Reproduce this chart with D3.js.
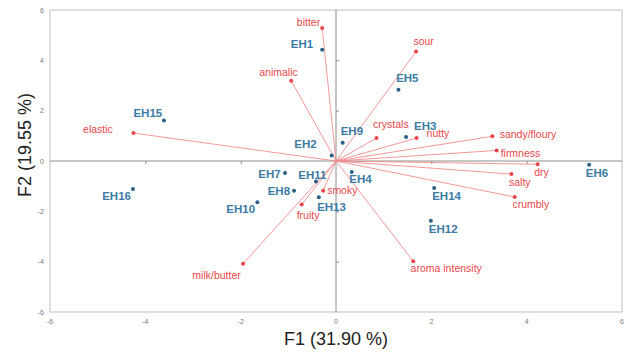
<!DOCTYPE html>
<html>
<head>
<meta charset="utf-8">
<script src="https://cdn.jsdelivr.net/npm/d3@7"></script>
<style>
  html, body { margin: 0; padding: 0; background: #fff; }
  svg { display: block; font-family: "Liberation Sans", Arial, sans-serif; }
</style>
</head>
<body>
<svg id="chart" width="630" height="352"></svg>
<script>
// ---- Data ----
const variableNames = ["bitter","sour","animalic","elastic","crystals","nutty","sandy/floury","firmness","dry","salty","crumbly","aroma intensity","milk/butter","fruity","smoky"];
const variableF1 = [-0.29, 1.68, -0.94, -4.25, 0.85, 1.69, 3.28, 3.37, 4.23, 3.68, 3.75, 1.62, -1.95, -0.72, -0.27];
const variableF2 = [5.28, 4.35, 3.19, 1.11, 0.91, 0.91, 0.98, 0.42, -0.13, -0.52, -1.43, -3.98, -4.08, -1.73, -1.18];

const obsNames = ["EH1","EH2","EH3","EH4","EH5","EH6","EH7","EH8","EH9","EH10","EH11","EH12","EH13","EH14","EH15","EH16"];
const obsF1 = [-0.29, -0.09, 1.47, 0.33, 1.31, 5.31, -1.07, -0.88, 0.14, -1.65, -0.42, 1.99, -0.36, 2.06, -3.61, -4.26];
const obsF2 = [4.42, 0.22, 0.95, -0.44, 2.83, -0.15, -0.48, -1.18, 0.73, -1.64, -0.81, -2.37, -1.44, -1.07, 1.61, -1.11];

const xTicks = [-6, -4, -2, 0, 2, 4, 6];
const yTicks = [-6, -4, -2, 0, 2, 4, 6];
const xTitle = "F1 (31.90 %)";
const yTitle = "F2 (19.55 %)";

// ---- Label placement (layout only) ----
const varLabelPos = {
  "bitter": [-2, -2, "end"], "sour": [-2.7, -7, "start"], "animalic": [-12.7, -4.5, "middle"],
  "elastic": [-20.6, -0.3, "end"], "crystals": [-3.4, -10.5, "start"], "nutty": [10, -1.3, "start"],
  "sandy/floury": [7.3, 1.8, "start"], "firmness": [4, 6.3, "start"], "dry": [-3.4, 11.5, "start"],
  "salty": [-2.4, 11.7, "start"], "crumbly": [-2.3, 11.2, "start"], "aroma intensity": [-2.6, 11.3, "start"],
  "milk/butter": [-2.3, 15.5, "end"], "fruity": [-5, 14, "start"], "smoky": [4, 3.5, "start"]
};
const obsLabelPos = {
  "EH1": [-9, -2, "end"], "EH2": [-15, -7.7, "end"], "EH3": [8, -7.5, "start"], "EH4": [-2.4, 11.2, "start"],
  "EH5": [-2.3, -7.5, "start"], "EH6": [-3.3, 11.8, "start"], "EH7": [-4.3, 5.2, "end"], "EH8": [-4, 4, "end"],
  "EH9": [-2, -7.2, "start"], "EH10": [-2.3, 10.3, "end"], "EH11": [-17.7, -2.7, "start"], "EH12": [-2, 12, "start"],
  "EH13": [-1.7, 13.8, "start"], "EH14": [-2, 11.7, "start"], "EH15": [-1.7, -3.7, "end"], "EH16": [-2, 11.5, "end"]
};

const svg = d3.select("#chart");
const margin = {left: 50, right: 8, top: 10, bottom: 40};
const W = 630, H = 352;
const x = d3.scaleLinear().domain([-6, 6]).range([margin.left, W - margin.right]);
const y = d3.scaleLinear().domain([-6, 6]).range([H - margin.bottom, margin.top]);

// frame
svg.append("rect")
  .attr("x", x(-6)).attr("y", y(6))
  .attr("width", x(6) - x(-6)).attr("height", y(-6) - y(6))
  .attr("fill", "none").attr("stroke", "#d4d4d4").attr("stroke-width", 1.5);

// tick labels
svg.append("g").selectAll("text").data(xTicks).join("text")
  .attr("x", d => x(d)).attr("y", y(-6) + 12)
  .attr("text-anchor", "middle").attr("font-size", 7).attr("fill", "#777")
  .text(d => d);
svg.append("g").selectAll("text").data(yTicks).join("text")
  .attr("x", x(-6) - 6).attr("y", d => y(d) + 2.5)
  .attr("text-anchor", "end").attr("font-size", 7).attr("fill", "#777")
  .text(d => d);

// zero axes with small ticks
const zx = svg.append("g").attr("transform", `translate(0,${y(0)})`)
  .call(d3.axisBottom(x).tickValues(xTicks.filter(d => d !== 0 && Math.abs(d) !== 6)).tickSize(3).tickFormat(""));
const zy = svg.append("g").attr("transform", `translate(${x(0)},0)`)
  .call(d3.axisRight(y).tickValues(yTicks.filter(d => d !== 0 && Math.abs(d) !== 6)).tickSize(3).tickFormat(""));
[zx, zy].forEach(g => {
  g.selectAll("path, line").attr("stroke", "#8c8c8c").attr("stroke-width", 1);
  g.select(".domain").attr("d", null);
});
svg.append("line").attr("x1", x(-6)).attr("x2", x(6)).attr("y1", y(0)).attr("y2", y(0))
  .attr("stroke", "#8c8c8c").attr("stroke-width", 1);
svg.append("line").attr("x1", x(0)).attr("x2", x(0)).attr("y1", y(6)).attr("y2", y(-6))
  .attr("stroke", "#8c8c8c").attr("stroke-width", 1);

// variables
const vars = variableNames.map((n, i) => ({name: n, f1: variableF1[i], f2: variableF2[i]}));
const obs = obsNames.map((n, i) => ({name: n, f1: obsF1[i], f2: obsF2[i]}));

svg.append("g").selectAll("line").data(vars).join("line")
  .attr("x1", x(0)).attr("y1", y(0))
  .attr("x2", d => x(d.f1)).attr("y2", d => y(d.f2))
  .attr("stroke", "#f28c8c").attr("stroke-width", 0.9);
svg.append("g").selectAll("circle").data(vars).join("circle")
  .attr("cx", d => x(d.f1)).attr("cy", d => y(d.f2)).attr("r", 2)
  .attr("fill", "#e8444a");
svg.append("g").selectAll("text").data(vars).join("text")
  .attr("x", d => x(d.f1) + varLabelPos[d.name][0])
  .attr("y", d => y(d.f2) + varLabelPos[d.name][1])
  .attr("text-anchor", d => varLabelPos[d.name][2])
  .attr("font-size", 10.5).attr("fill", "#e8474a")
  .text(d => d.name);

// observations
svg.append("g").selectAll("circle").data(obs).join("circle")
  .attr("cx", d => x(d.f1)).attr("cy", d => y(d.f2)).attr("r", 2)
  .attr("fill", "#2a6185");
svg.append("g").selectAll("text").data(obs).join("text")
  .attr("x", d => x(d.f1) + obsLabelPos[d.name][0])
  .attr("y", d => y(d.f2) + obsLabelPos[d.name][1])
  .attr("text-anchor", d => obsLabelPos[d.name][2])
  .attr("font-size", 11.5).attr("font-weight", "bold").attr("fill", "#3b7ba3")
  .text(d => d.name);

// axis titles
svg.append("text").attr("x", (x(-6) + x(6)) / 2).attr("y", 345)
  .attr("text-anchor", "middle").attr("font-size", 18).attr("fill", "#222")
  .text(xTitle);
svg.append("text").attr("transform", `translate(31,145) rotate(-90)`)
  .attr("text-anchor", "middle").attr("font-size", 18).attr("fill", "#222")
  .text(yTitle);
</script>
</body>
</html>
